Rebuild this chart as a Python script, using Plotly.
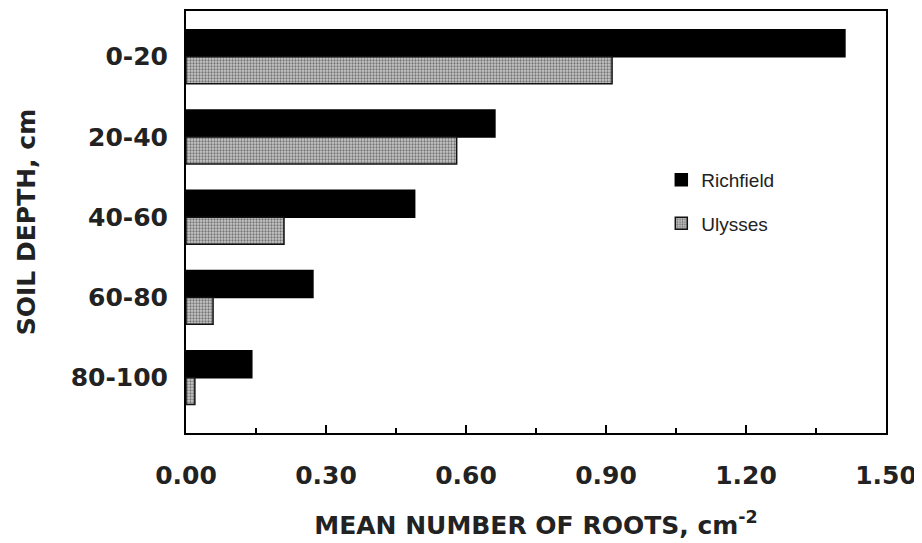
import plotly.graph_objects as go

depths = ["0-20", "20-40", "40-60", "60-80", "80-100"]
richfield = [1.412, 0.662, 0.49, 0.272, 0.141]
ulysses = [0.913, 0.58, 0.21, 0.058, 0.019]
x_ticks = [0.0, 0.3, 0.6, 0.9, 1.2, 1.5]
x_ticklabels = ["0.00", "0.30", "0.60", "0.90", "1.20", "1.50"]

FONT = "DejaVu Sans"
TXT = "#222222"

fig = go.Figure()
fig.add_trace(go.Bar(
    y=depths, x=richfield, orientation="h", name="Richfield",
    legendgroup="r",
    marker=dict(color="black", line=dict(color="black", width=1.5)),
))
fig.add_trace(go.Bar(
    y=depths, x=ulysses, orientation="h", name="Ulysses",
    legendgroup="u",
    marker=dict(color="#9a9a9a", line=dict(color="#111111", width=1.5),
                pattern=dict(shape=".", fgcolor="#222222", bgcolor="#c8c8c8",
                             size=3, solidity=0.45)),
))

# page body has an 8px margin, so the figure is a bit smaller than the window
fig.update_layout(
    width=914, height=535,
    margin=dict(l=178, r=36, t=1, b=110),
    paper_bgcolor="white", plot_bgcolor="white",
    barmode="group", bargap=0.328, bargroupgap=0,
    showlegend=True,
    legend=dict(x=0.679, y=0.645, xanchor="left", yanchor="top",
                bgcolor="rgba(0,0,0,0)", tracegroupgap=16,
                font=dict(family="Liberation Sans", size=19, color=TXT)),
    font=dict(family=FONT, color=TXT),
)
fig.update_xaxes(
    range=[0, 1.5], tickvals=x_ticks, ticktext=x_ticklabels,
    ticks="inside", ticklen=8, tickwidth=2, tickcolor="black",
    minor=dict(dtick=0.15, ticks="inside", ticklen=5, tickwidth=2, tickcolor="black"),
    showline=True, mirror=True, linecolor="black", linewidth=2,
    showgrid=False, zeroline=False,
    ticklabelstandoff=19,
    tickfont=dict(family=FONT, size=25, weight="bold", color=TXT),
    title=dict(text="MEAN NUMBER OF ROOTS, cm<sup>-2</sup>", standoff=27,
               font=dict(family=FONT, size=25, weight="bold", color=TXT)),
)
fig.update_yaxes(
    type="category", categoryorder="array", categoryarray=depths,
    range=[4.69, -0.57],
    ticks="", showline=True, mirror=True, linecolor="black", linewidth=2,
    showgrid=False, zeroline=False,
    ticklabelstandoff=11,
    tickfont=dict(family=FONT, size=25, weight="bold", color=TXT),
    title=dict(text="SOIL DEPTH, cm", standoff=28,
               font=dict(family=FONT, size=25, weight="bold", color=TXT)),
)

fig.write_html("out.html")
